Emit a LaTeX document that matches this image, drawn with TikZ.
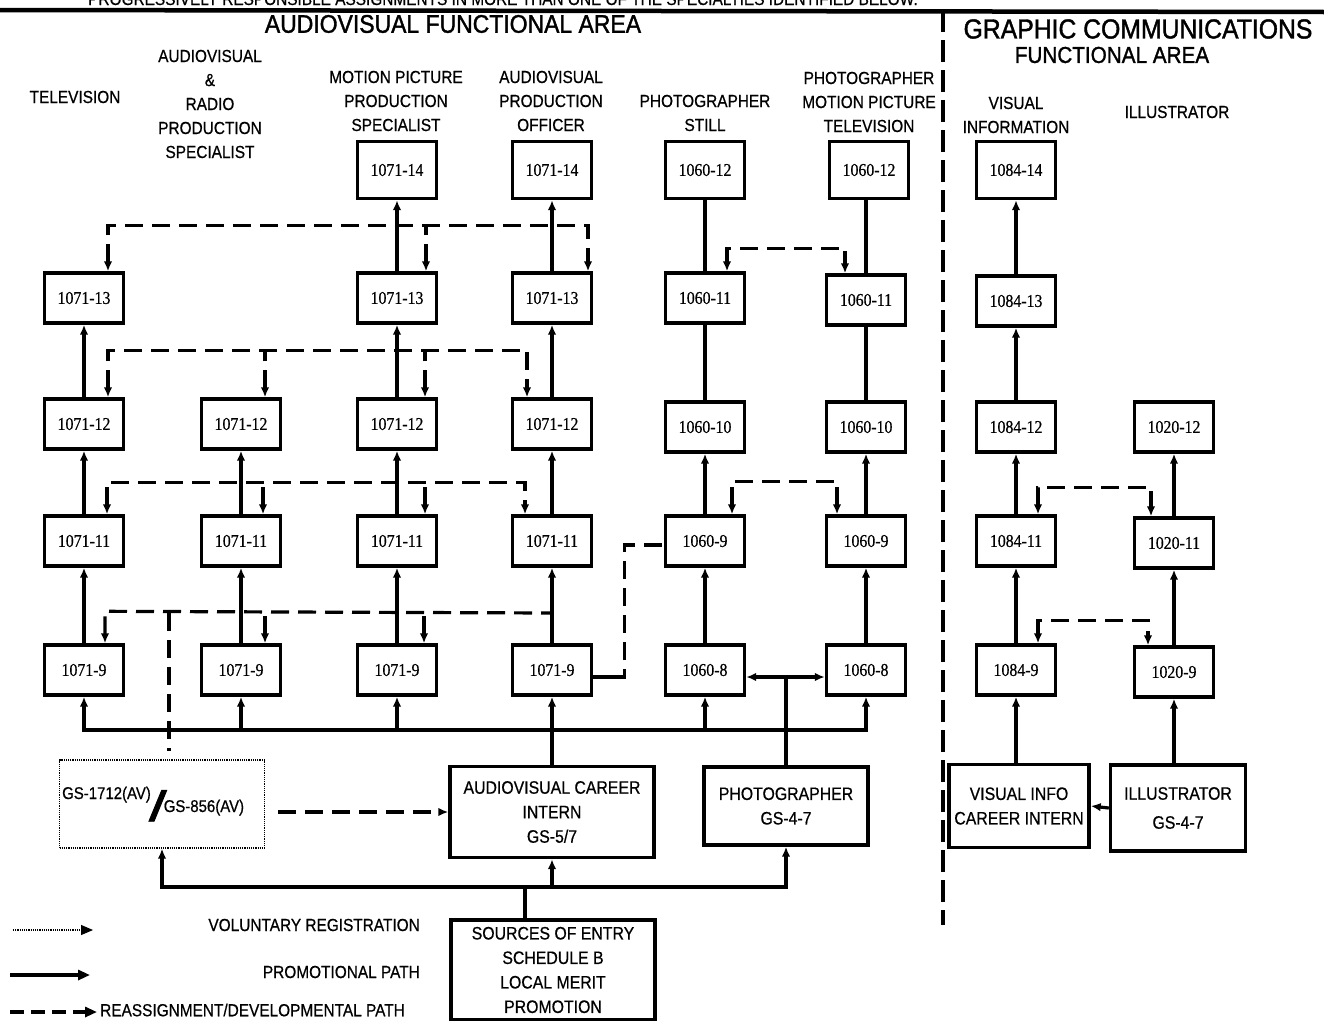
\documentclass[tikz,border=0pt]{standalone}
\usepackage{fontspec}
\setmainfont{Liberation Sans}
\newfontfamily\labf{Liberation Sans}[FakeStretch=0.88,FakeBold=0.6]
\newfontfamily\titf{Liberation Sans}[FakeStretch=0.9,FakeBold=1.4]
\newfontfamily\numf{Liberation Serif}[FakeStretch=0.88,FakeBold=0.5]
\usetikzlibrary{arrows.meta}
\begin{document}
\begin{tikzpicture}[x=1pt,y=-1pt,
  nb/.style={draw,line width=3.4pt,minimum width=79pt,minimum height=50pt,inner sep=0pt,
     font=\numf\fontsize{18}{18}\selectfont},
  tall/.style={minimum height=57pt},
  lab/.style={align=center,inner sep=0pt,font=\labf\fontsize{17.5}{24}\selectfont},
  bigbox/.style={draw,line width=3.4pt,inner sep=0pt,align=center,font=\labf\fontsize{18}{24.5}\selectfont},
  pline/.style={line width=3.2pt},
  promo/.style={line width=3.2pt,-{Latex[length=10pt,width=8.5pt]}},
  dev/.style={line width=3.2pt,dash pattern=on 18pt off 9pt},
  tipL/.style={-{Latex[length=10pt,width=8.5pt]}},
  tipBoth/.style={{Latex[length=10pt,width=8.5pt]}-{Latex[length=10pt,width=8.5pt]}},
  tipS/.style={{Latex[length=10pt,width=8.5pt]}-},
  legtext/.style={inner sep=0pt,font=\labf\fontsize{17.5}{17.5}\selectfont},
]
\clip (0,0) rectangle (1324,1020);
\fill[white] (0,0) rectangle (1324,1020);

% top strip
\node[anchor=base west,inner sep=0pt,font=\labf\fontsize{17.5}{17.5}\selectfont] (toptext) at (88,5)
  {PROGRESSIVELY RESPONSIBLE ASSIGNMENTS IN MORE THAN ONE OF THE SPECIALTIES IDENTIFIED BELOW.};
\coordinate (tlA) at (0,10);
\coordinate (tlB) at (1324,12);
\draw[line width=4.5pt] (tlA) -- (tlB);
\coordinate (dvA) at (943,10);
\coordinate (dvB) at (943,925);
\draw[line width=3.4pt,dash pattern=on 22pt off 8pt] (dvA) -- (dvB);

% area titles
\node[inner sep=0pt,font=\titf\fontsize{25.5}{25.5}\selectfont] (avarea) at (453,24) {AUDIOVISUAL FUNCTIONAL AREA};
\node[inner sep=0pt,font=\titf\fontsize{27.5}{27.5}\selectfont] (gcarea) at (1138,29) {GRAPHIC COMMUNICATIONS};
\node[inner sep=0pt,font=\titf\fontsize{23}{23}\selectfont] (gcarea2) at (1112,55) {FUNCTIONAL AREA};

% column headings
\node[lab] (h1) at (75,97) {TELEVISION};
\node[lab] (h2) at (210,104) {AUDIOVISUAL\\\&\\RADIO\\PRODUCTION\\SPECIALIST};
\node[lab] (h3) at (396,101) {MOTION PICTURE\\PRODUCTION\\SPECIALIST};
\node[lab] (h4) at (551,101) {AUDIOVISUAL\\PRODUCTION\\OFFICER};
\node[lab] (h5) at (705,113) {PHOTOGRAPHER\\STILL};
\node[lab] (h6) at (869,102) {PHOTOGRAPHER\\MOTION PICTURE\\TELEVISION};
\node[lab] (h7) at (1016,115) {VISUAL\\INFORMATION};
\node[lab] (h8) at (1177,112) {ILLUSTRATOR};

% column 1 TELEVISION
\node[nb] (a13) at (84,298) {1071-13};
\node[nb] (a12) at (84,424) {1071-12};
\node[nb] (a11) at (84,541) {1071-11};
\node[nb] (a9)  at (84,670) {1071-9};
% column 2
\node[nb] (b12) at (241,424) {1071-12};
\node[nb] (b11) at (241,541) {1071-11};
\node[nb] (b9)  at (241,670) {1071-9};
% column 3
\node[nb,tall] (c14) at (397,170) {1071-14};
\node[nb] (c13) at (397,298) {1071-13};
\node[nb] (c12) at (397,424) {1071-12};
\node[nb] (c11) at (397,541) {1071-11};
\node[nb] (c9)  at (397,670) {1071-9};
% column 4
\node[nb,tall] (d14) at (552,170) {1071-14};
\node[nb] (d13) at (552,298) {1071-13};
\node[nb] (d12) at (552,424) {1071-12};
\node[nb] (d11) at (552,541) {1071-11};
\node[nb] (d9)  at (552,670) {1071-9};
% column 5
\node[nb,tall] (e12) at (705,170) {1060-12};
\node[nb] (e11) at (705,298) {1060-11};
\node[nb] (e10) at (705,427) {1060-10};
\node[nb] (e9)  at (705,541) {1060-9};
\node[nb] (e8)  at (705,670) {1060-8};
% column 6
\node[nb,tall] (f12) at (869,170) {1060-12};
\node[nb] (f11) at (866,300) {1060-11};
\node[nb] (f10) at (866,427) {1060-10};
\node[nb] (f9)  at (866,541) {1060-9};
\node[nb] (f8)  at (866,670) {1060-8};
% column 7
\node[nb,tall] (g14) at (1016,170) {1084-14};
\node[nb] (g13) at (1016,301) {1084-13};
\node[nb] (g12) at (1016,427) {1084-12};
\node[nb] (g11) at (1016,541) {1084-11};
\node[nb] (g9)  at (1016,670) {1084-9};
% column 8
\node[nb] (h12) at (1174,427) {1020-12};
\node[nb] (h11) at (1174,543) {1020-11};
\node[nb] (h9)  at (1174,672) {1020-9};

% bottom boxes
\node[draw,densely dotted,line width=1.2pt,minimum width=205pt,minimum height=88pt,inner sep=0pt] (gs) at (162,804) {};
\node[anchor=base west,inner sep=0pt,font=\labf\fontsize{17}{17}\selectfont] (gstext) at (62,799)
  {GS-1712(AV)\kern-2pt\raisebox{-22pt}{\scalebox{4.2}[2.5]{\titf /}}\kern-3pt\raisebox{-13pt}{GS-856(AV)}};
\node[bigbox,minimum width=204pt,minimum height=91pt] (avi) at (552,812) {AUDIOVISUAL CAREER\\INTERN\\GS-5/7};
\node[bigbox,minimum width=164pt,minimum height=78pt] (pho) at (786,806) {PHOTOGRAPHER\\GS-4-7};
\node[bigbox,minimum width=204pt,minimum height=100pt] (src) at (553,970) {SOURCES OF ENTRY\\SCHEDULE B\\LOCAL MERIT\\PROMOTION};
\node[bigbox,minimum width=140pt,minimum height=83pt] (vii) at (1019,806) {VISUAL INFO\\CAREER INTERN};
\node[bigbox,minimum width=135pt,minimum height=86pt,font=\labf\fontsize{18}{29}\selectfont] (ill) at (1178,808) {ILLUSTRATOR\\GS-4-7};

% promotional paths
\draw[promo] (a9) -- (a11);  \draw[promo] (a11) -- (a12);  \draw[promo] (a12) -- (a13);
\draw[promo] (b9) -- (b11);  \draw[promo] (b11) -- (b12);
\draw[promo] (c9) -- (c11);  \draw[promo] (c11) -- (c12);  \draw[promo] (c12) -- (c13);  \draw[promo] (c13) -- (c14);
\draw[promo] (d9) -- (d11);  \draw[promo] (d11) -- (d12);  \draw[promo] (d12) -- (d13);  \draw[promo] (d13) -- (d14);
\draw[promo] (e8) -- (e9);   \draw[promo] (e9) -- (e10);   \draw[pline] (e10) -- (e11);  \draw[pline] (e11) -- (e12);
\draw[promo] (f8) -- (f9);   \draw[promo] (f9) -- (f10);   \draw[pline] (f10) -- (f11);  \draw[pline] (f11.north) -- (f11.north |- f12.south);
\draw[promo] (g9) -- (g11);  \draw[promo] (g11) -- (g12);  \draw[promo] (g12) -- (g13);  \draw[promo] (g13) -- (g14);
\draw[promo] (h9) -- (h11);  \draw[promo] (h11) -- (h12);
\draw[promo] (g9.south |- vii.north) -- (g9.south);
\draw[promo] (h9.south |- ill.north) -- (h9.south);
\draw[promo] (ill.west) -- (vii.east);

% bus from intern / photographer
\coordinate (bus) at (552,730);
\draw[promo] (avi.north) -- (d9.south);
\draw[promo] (bus) -| (a9.south);
\draw[promo] (bus) -| (b9.south);
\draw[promo] (bus) -| (c9.south);
\draw[promo] (bus) -| (e8.south);
\draw[promo] (bus) -| (f8.south);
\coordinate (phj) at (786,677);
\draw[pline] (pho.north) -- (phj);
\draw[promo] (phj) -- ([yshift=-7pt]e8.east);
\draw[promo] (phj) -- ([yshift=-7pt]f8.west);

% sources of entry
\coordinate (bus2) at (525,887);
\draw[pline] ([xshift=-28pt]src.north) -- (bus2);
\draw[promo] (bus2) -| (gs.south);
\draw[promo] (bus2) -| (avi.south);
\draw[promo] (bus2) -| (pho.south);

% reassignment / developmental paths
\draw[dev,tipBoth] ([xshift=24pt]a13.north) -- ++(0,-46) -- ++(480,0) -- ([xshift=36pt]d13.north);
\draw[dev,tipS] ([xshift=29pt]c13.north) -- ++(0,-46);

\draw[dev,tipBoth] ([xshift=24pt]a12.north) -- ++(0,-47) -- ++(419,0) -- ([xshift=-25pt]d12.north);
\draw[dev,tipS] ([xshift=24pt]b12.north) -- ++(0,-47);
\draw[dev,tipS] ([xshift=28pt]c12.north) -- ++(0,-47);

\draw[dev,tipBoth] ([xshift=23pt]a11.north) -- ++(0,-32) -- ++(418,0) -- ([xshift=-27pt]d11.north);
\draw[dev,tipS] ([xshift=22pt]b11.north) -- ++(0,-32);
\draw[dev,tipS] ([xshift=28pt]c11.north) -- ++(0,-32);

\coordinate (j9) at (552,613);
\coordinate (gsj) at (169,613);
\draw[dev,tipS] ([xshift=21pt]a9.north) -- ++(0,-32) -- (j9);
\draw[dev,tipS] ([xshift=24pt]b9.north) -- ++(0,-32);
\draw[dev,tipS] ([xshift=27pt]c9.north) -- ++(0,-32);
\draw[dev] (gsj) -- ([xshift=7pt,yshift=8pt]gs.north);

\draw[pline] ([yshift=-7pt]d9.east) -- ++(21,0) coordinate (dstub);
\draw[dev] (dstub) -- ++(10,0) |- ([yshift=-4pt]e9.west);

\draw[dev,tipBoth] ([xshift=22pt]e11.north) -- ++(0,-23) -- ++(118,0) -- ([xshift=-21pt]f11.north);
\draw[dev,tipBoth] ([xshift=27pt]e9.north) -- ++(0,-33) -- ++(105,0) -- ([xshift=-29pt]f9.north);
\draw[dev,tipBoth] ([xshift=22pt]g11.north) -- ++(0,-27) -- ++(113,0) -- ([xshift=-23pt]h11.north);
\draw[dev,tipBoth] ([xshift=22pt]g9.north) -- ++(0,-23) -- ++(110,0) -- ([xshift=-26pt]h9.north);

\path ([xshift=13pt]gs.east |- avi.west) coordinate (gsr);
\draw[dev,tipL] (gsr) -- (avi.west);

% legend
\coordinate (l1a) at (13,930);  \coordinate (l1b) at (93,930);
\coordinate (l2a) at (10,975);  \coordinate (l2b) at (90,975);
\coordinate (l3a) at (10,1012); \coordinate (l3b) at (97,1012);
\draw[line width=1.2pt,densely dotted,-{Triangle[length=12pt,width=10pt]}] (l1a) -- (l1b);
\draw[line width=3.4pt,-{Triangle[length=12pt,width=10pt]}] (l2a) -- (l2b);
\draw[line width=3.4pt,dash pattern=on 14pt off 7pt,-{Triangle[length=12pt,width=10pt]}] (l3a) -- (l3b);
\node[legtext,anchor=east] (leg1) at (420,925) {VOLUNTARY REGISTRATION};
\node[legtext,anchor=east] (leg2) at (420,972) {PROMOTIONAL PATH};
\node[legtext,anchor=west] (leg3) at (100,1010) {REASSIGNMENT/DEVELOPMENTAL PATH};
\end{tikzpicture}
\end{document}
